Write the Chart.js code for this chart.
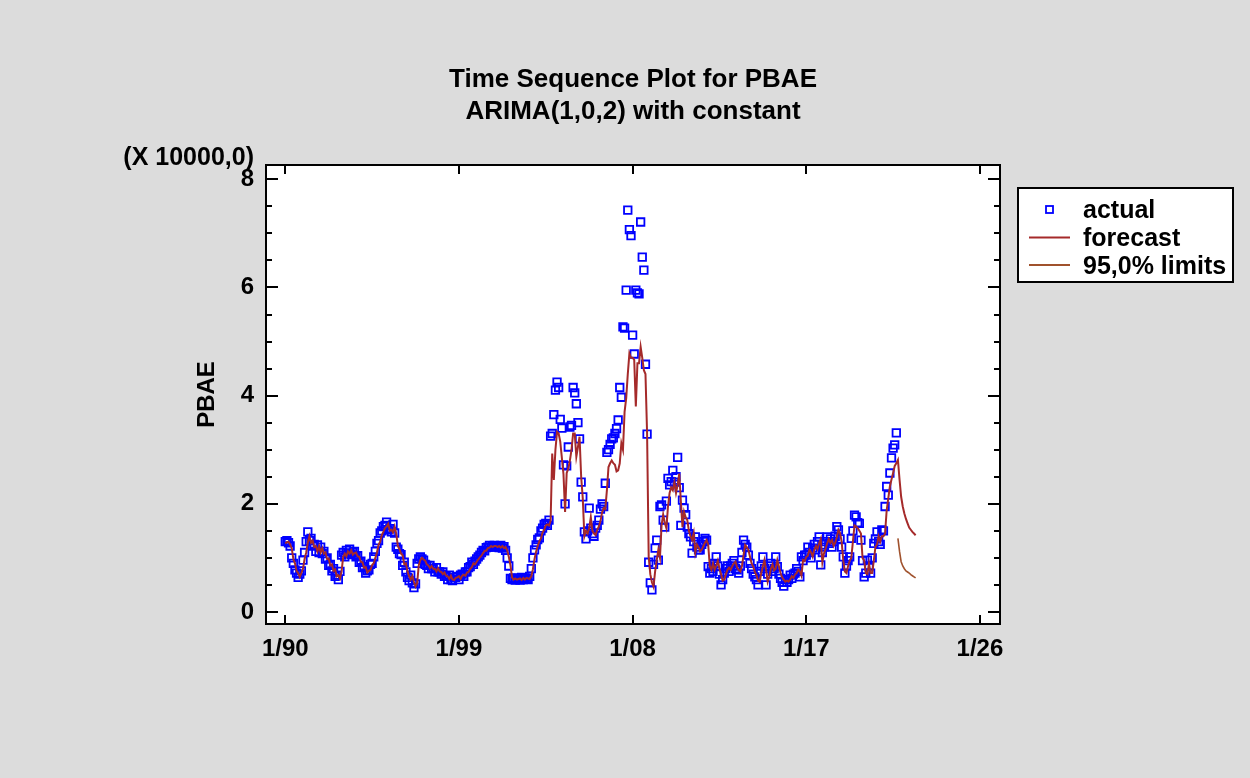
<!DOCTYPE html>
<html>
<head>
<meta charset="utf-8">
<script src="https://cdn.jsdelivr.net/npm/chart.js@4.4.1/dist/chart.umd.min.js"></script>
<style>
  html, body { margin: 0; padding: 0; background: #DCDCDC; }
  #wrap { width: 1250px; height: 778px; }
</style>
</head>
<body>
<div id="wrap"><canvas id="c" width="1250" height="778"></canvas></div>
<script>
// ---- Data (monthly, starting January 1990), values in units of 10000 ----
const startYear = 1990;
const actual1990s = [
  1.30,1.32,1.28,1.22,1.00,0.90,0.78,0.72,0.64,0.70,0.76,0.96,
  1.10,1.30,1.48,1.32,1.36,1.22,1.25,1.12,1.24,1.10,1.20,1.08,
  1.12,0.98,1.00,0.86,0.88,0.76,0.80,0.66,0.68,0.60,0.75,1.05,
  1.10,1.02,1.14,1.08,1.16,1.06,1.10,1.12,1.02,1.04,0.92,0.94,
  0.82,0.84,0.72,0.76,0.78,0.88,0.90,1.02,1.12,1.27,1.32,1.46,
  1.50,1.58,1.60,1.66,1.52,1.54,1.48,1.62,1.46,1.20,1.16,1.08,
  1.06,0.86,0.92,0.74,0.64,0.58,0.68,0.54,0.45,0.52,0.90,0.98,
  1.02,0.98,0.96,0.88,0.86,0.80,0.86,0.80,0.80,0.74,0.82,0.74,
  0.74,0.70,0.74,0.66,0.66,0.60,0.68,0.60,0.58,0.64,0.64,0.66,
  0.60,0.68,0.70,0.66,0.74,0.74,0.82,0.84,0.92,0.88,0.94,0.98
];
const actual2000s = [
  1.02,1.05,1.10,1.14,1.13,1.19,1.20,1.23,1.20,1.22,1.23,1.20,
  1.22,1.19,1.23,1.18,1.21,1.14,1.00,0.85,0.62,0.60,0.63,0.59,
  0.61,0.62,0.59,0.64,0.60,0.63,0.62,0.60,0.66,0.80,1.00,1.15,
  1.24,1.34,1.37,1.50,1.55,1.62,1.64,1.60,1.70,3.25,3.30,3.65,
  4.10,4.25,4.15,3.56,3.40,2.72,2.00,2.70,3.05,3.42,3.45,4.15,
  4.05,3.85,3.50,3.20,2.40,2.13,1.48,1.35,1.50,1.92,1.55,1.45,
  1.40,1.55,1.60,1.70,1.90,2.00,1.95,2.38,2.95,3.00,3.10,3.20,
  3.22,3.30,3.39,3.55,4.15,3.97,5.27,5.25,5.95,7.43,7.07,6.96,
  5.12,4.77,5.95,5.90,5.88,7.21,6.56,6.32,4.58,3.29,0.92,0.54,
  0.41,0.88,1.18,1.33,0.96,1.95,1.98,1.70,1.57,2.05,2.47,2.35
];
const actual2010s = [
  2.41,2.62,2.40,2.50,2.86,2.30,1.60,2.07,1.92,1.80,1.57,1.45,
  1.39,1.09,1.30,1.39,1.20,1.15,1.15,1.25,1.30,1.36,1.33,0.84,
  0.72,0.80,0.75,0.90,1.02,0.85,0.70,0.50,0.60,0.72,0.80,0.85,
  0.75,0.85,0.90,0.95,0.80,0.78,0.72,0.85,1.10,1.33,1.25,1.20,
  1.05,0.90,0.80,0.70,0.65,0.60,0.50,0.75,0.85,1.02,0.80,0.50,
  0.70,0.85,0.90,0.75,0.80,1.02,0.84,0.70,0.62,0.55,0.48,0.60,
  0.55,0.60,0.68,0.62,0.70,0.72,0.80,0.75,0.65,1.02,0.95,1.05,
  1.05,1.20,1.10,1.00,1.18,1.25,1.15,1.30,1.39,0.87,1.10,1.20,
  1.30,1.39,1.27,1.35,1.20,1.30,1.40,1.58,1.52,1.35,1.20,1.02,
  0.72,0.85,0.95,1.02,1.36,1.50,1.79,1.76,1.65,1.64,1.33,0.95
];
const actual2020s = [
  0.65,0.72,0.96,0.85,0.72,1.00,1.27,1.35,1.48,1.30,1.25,1.52,
  1.50,1.95,2.32,2.16,2.57,2.85,3.03,3.09,3.31
];
// one-step-ahead fitted values (same months as actual)
const fitted1990s = [
  1.27,1.29,1.30,1.25,1.18,0.98,0.90,0.76,0.72,0.65,0.72,0.80,
  0.98,1.10,1.28,1.40,1.28,1.32,1.20,1.22,1.12,1.22,1.10,1.18,
  1.08,1.10,0.98,0.99,0.86,0.88,0.76,0.79,0.66,0.68,0.62,0.75,
  1.02,1.08,1.03,1.12,1.08,1.14,1.06,1.09,1.10,1.03,1.02,0.93,
  0.92,0.82,0.83,0.73,0.76,0.78,0.87,0.90,1.00,1.10,1.24,1.30,
  1.42,1.48,1.55,1.58,1.63,1.50,1.52,1.47,1.58,1.45,1.22,1.16,
  1.08,1.05,0.88,0.90,0.75,0.66,0.60,0.67,0.56,0.47,0.53,0.86,
  0.96,1.00,0.97,0.95,0.88,0.86,0.81,0.85,0.80,0.80,0.75,0.81,
  0.75,0.74,0.70,0.73,0.67,0.66,0.61,0.67,0.60,0.59,0.63,0.64,
  0.66,0.61,0.67,0.69,0.67,0.73,0.74,0.80,0.83,0.90,0.88,0.93
];
const fitted2000s = [
  0.97,1.01,1.04,1.09,1.13,1.13,1.18,1.19,1.22,1.20,1.22,1.22,
  1.20,1.22,1.19,1.22,1.18,1.20,1.14,1.02,0.87,0.64,0.60,0.62,
  0.60,0.61,0.62,0.59,0.63,0.60,0.63,0.62,0.61,0.66,0.79,0.98,
  1.12,1.22,1.31,1.36,1.47,1.52,1.60,1.62,1.60,1.68,2.93,2.44,
  3.00,3.33,3.30,3.15,2.85,2.55,1.85,2.57,2.65,2.80,3.00,3.30,
  3.30,2.87,3.05,3.24,2.50,2.10,1.40,1.50,1.45,1.55,1.75,1.50,
  1.45,1.42,1.52,1.58,1.68,1.84,1.92,1.90,2.25,2.68,2.75,2.80,
  2.75,2.72,2.60,2.62,2.75,3.12,3.00,3.70,3.95,4.40,4.78,4.70,
  4.70,4.66,3.80,4.60,4.60,4.90,4.70,4.47,4.40,3.30,1.02,0.70,
  0.55,0.47,0.75,0.96,1.15,1.00,1.60,1.80,1.65,1.55,1.95,2.20
];
const fitted2010s = [
  2.30,2.25,2.40,2.20,2.35,2.56,2.05,1.57,1.85,1.75,1.70,1.50,
  1.40,1.33,1.46,1.10,1.25,1.20,1.12,1.15,1.22,1.28,1.33,1.25,
  0.84,0.78,0.90,0.78,0.85,0.95,0.80,0.70,0.58,0.60,0.70,0.78,
  0.82,0.78,0.85,0.90,0.93,0.82,0.78,0.75,0.85,1.05,1.24,1.20,
  1.15,1.02,0.90,0.84,0.74,0.68,0.58,0.56,0.72,0.84,0.96,0.78,
  0.56,0.66,0.80,0.88,0.77,0.80,0.96,0.84,0.72,0.64,0.60,0.56,
  0.58,0.56,0.60,0.66,0.63,0.69,0.72,0.78,0.75,0.67,0.96,0.94,
  1.02,1.04,1.15,1.10,1.02,1.15,1.22,1.16,1.27,1.35,0.92,1.08,
  1.17,1.27,1.35,1.28,1.33,1.22,1.28,1.38,1.52,1.46,1.30,0.96,
  0.75,0.72,0.85,0.95,1.00,1.30,1.60,1.58,1.55,1.50,1.45,1.00
];
const fitted2020s = [
  0.95,0.72,0.70,0.90,0.72,0.72,0.95,1.20,1.25,1.40,1.30,1.40,
  1.40,1.45,1.88,2.10,2.32,2.45,2.57,2.70,2.75
];
// out-of-sample forecasts (Oct 2021 .. Sep 2022) and lower 95% limit
const forecastAhead = [2.81,2.45,2.13,1.95,1.82,1.72,1.64,1.56,1.52,1.48,1.45,1.42];
const lowerLimit    = [1.36,1.12,0.93,0.85,0.80,0.76,0.74,0.72,0.69,0.67,0.65,0.63];

const xTickYears = [1990, 1999, 2008, 2017, 2026];
const yTickValues = [0, 2, 4, 6, 8];
const legendLabels = ['actual', 'forecast', '95,0% limits'];
const titleLines = ['Time Sequence Plot for PBAE', 'ARIMA(1,0,2) with constant'];
const yAxisTitle = 'PBAE';
const yScaleNote = '(X 10000,0)';

// ---- build point lists ----
const actualAll = actual1990s.concat(actual2000s, actual2010s, actual2020s);
const fittedAll = fitted1990s.concat(fitted2000s, fitted2010s, fitted2020s, forecastAhead);
const toPts = (arr, offset) => arr.map((v, i) => ({ x: startYear + (offset + i) / 12, y: v }));
const actualPts = toPts(actualAll, 0);
const fittedPts = toPts(fittedAll, 0);
const lowerPts = toPts(lowerLimit, actualAll.length);

const FONT = '"Liberation Sans", Arial, Helvetica, sans-serif';
const BLUE = '#0000FF';
const FC_COLOR = '#A52A2A';
const LIM_COLOR = '#A0522D';

const decor = {
  id: 'decor',
  beforeDraw(chart) {
    const { ctx, chartArea: a } = chart;
    ctx.save();
    ctx.fillStyle = '#FFFFFF';
    ctx.fillRect(a.left, a.top, a.right - a.left, a.bottom - a.top);
    ctx.restore();
  },
  afterDraw(chart) {
    const { ctx, chartArea: a } = chart;
    const xs = chart.scales.x, ys = chart.scales.y;
    ctx.save();
    // frame
    ctx.strokeStyle = '#000';
    ctx.lineWidth = 2;
    ctx.strokeRect(a.left, a.top, a.right - a.left, a.bottom - a.top);
    // x ticks (inward, top and bottom)
    ctx.beginPath();
    xTickYears.forEach(yr => {
      const px = Math.round(xs.getPixelForValue(yr));
      ctx.moveTo(px, a.bottom); ctx.lineTo(px, a.bottom - 9);
      ctx.moveTo(px, a.top); ctx.lineTo(px, a.top + 9);
    });
    // y ticks major + minor (inward, left and right)
    for (let v = 0; v <= 8.001; v += 0.5) {
      const py = Math.round(ys.getPixelForValue(v));
      const len = (Math.abs(v % 2) < 1e-6) ? 12 : 6;
      ctx.moveTo(a.left, py); ctx.lineTo(a.left + len, py);
      ctx.moveTo(a.right, py); ctx.lineTo(a.right - len, py);
    }
    ctx.stroke();

    // titles
    ctx.fillStyle = '#000';
    ctx.font = 'bold 26px ' + FONT;
    ctx.textAlign = 'center';
    ctx.textBaseline = 'middle';
    const cx = (a.left + a.right) / 2;
    ctx.fillText(titleLines[0], cx, 80);
    ctx.fillText(titleLines[1], cx, 112);
    // scale note
    ctx.font = 'bold 25px ' + FONT;
    ctx.textAlign = 'right';
    ctx.fillText(yScaleNote, 254, 158);
    // y axis title
    ctx.save();
    ctx.font = 'bold 24px ' + FONT;
    ctx.translate(207, (a.top + a.bottom) / 2);
    ctx.rotate(-Math.PI / 2);
    ctx.textAlign = 'center';
    ctx.fillText(yAxisTitle, 0, 0);
    ctx.restore();

    // legend
    const lx = 1018, ly = 188, lw = 215, lh = 94;
    ctx.fillStyle = '#FFFFFF';
    ctx.fillRect(lx, ly, lw, lh);
    ctx.strokeStyle = '#000';
    ctx.lineWidth = 2;
    ctx.strokeRect(lx, ly, lw, lh);
    const rows = [210, 238, 266];
    // actual marker
    ctx.strokeStyle = BLUE;
    ctx.lineWidth = 1.8;
    ctx.strokeRect(1046, rows[0] - 4, 7, 7);
    // forecast line
    ctx.strokeStyle = FC_COLOR; ctx.lineWidth = 2;
    ctx.beginPath(); ctx.moveTo(1029, 237.5); ctx.lineTo(1070, 237.5); ctx.stroke();
    ctx.strokeStyle = LIM_COLOR; ctx.lineWidth = 2;
    ctx.beginPath(); ctx.moveTo(1029, 265); ctx.lineTo(1070, 265); ctx.stroke();
    ctx.fillStyle = '#000';
    ctx.font = 'bold 25px ' + FONT;
    ctx.textAlign = 'left';
    ctx.textBaseline = 'middle';
    legendLabels.forEach((t, i) => ctx.fillText(t, 1083, rows[i] + 1));
    ctx.restore();
  }
};

new Chart(document.getElementById('c'), {
  type: 'line',
  data: {
    datasets: [
      {
        label: legendLabels[1], data: fittedPts, borderColor: FC_COLOR, borderWidth: 2,
        pointRadius: 0, fill: false, tension: 0, order: 1
      },
      {
        label: legendLabels[2], data: lowerPts, borderColor: LIM_COLOR, borderWidth: 1.6,
        pointRadius: 0, fill: false, tension: 0, order: 2
      },
      {
        label: legendLabels[0], data: actualPts, showLine: false, pointStyle: 'rect',
        pointRadius: 5.3, pointBorderWidth: 1.8, pointBorderColor: BLUE,
        pointBackgroundColor: 'rgba(0,0,0,0)', borderColor: BLUE, order: 3
      }
    ]
  },
  options: {
    responsive: false,
    animation: false,
    devicePixelRatio: 1,
    layout: { padding: { left: 0, top: 165, right: 250, bottom: 0 } },
    plugins: { legend: { display: false }, title: { display: false }, tooltip: { enabled: false } },
    scales: {
      x: {
        type: 'linear', min: 1989.0, max: 2027.04,
        grid: { display: false, drawTicks: false },
        border: { display: false },
        afterBuildTicks: s => { s.ticks = xTickYears.map(v => ({ value: v })); },
        afterFit: s => { s.height = 778 - 624; },
        ticks: {
          autoSkip: false, maxRotation: 0, padding: 11, color: '#000',
          font: { family: FONT, size: 24, weight: 'bold' },
          callback: v => '1/' + String(v).slice(2)
        }
      },
      y: {
        type: 'linear', min: -0.222, max: 8.264,
        grid: { display: false, drawTicks: false },
        border: { display: false },
        afterBuildTicks: s => { s.ticks = yTickValues.map(v => ({ value: v })); },
        afterFit: s => { s.width = 266; },
        ticks: {
          padding: 12, color: '#000',
          font: { family: FONT, size: 24, weight: 'bold' },
          callback: v => String(v)
        }
      }
    }
  },
  plugins: [decor]
});
</script>
</body>
</html>
